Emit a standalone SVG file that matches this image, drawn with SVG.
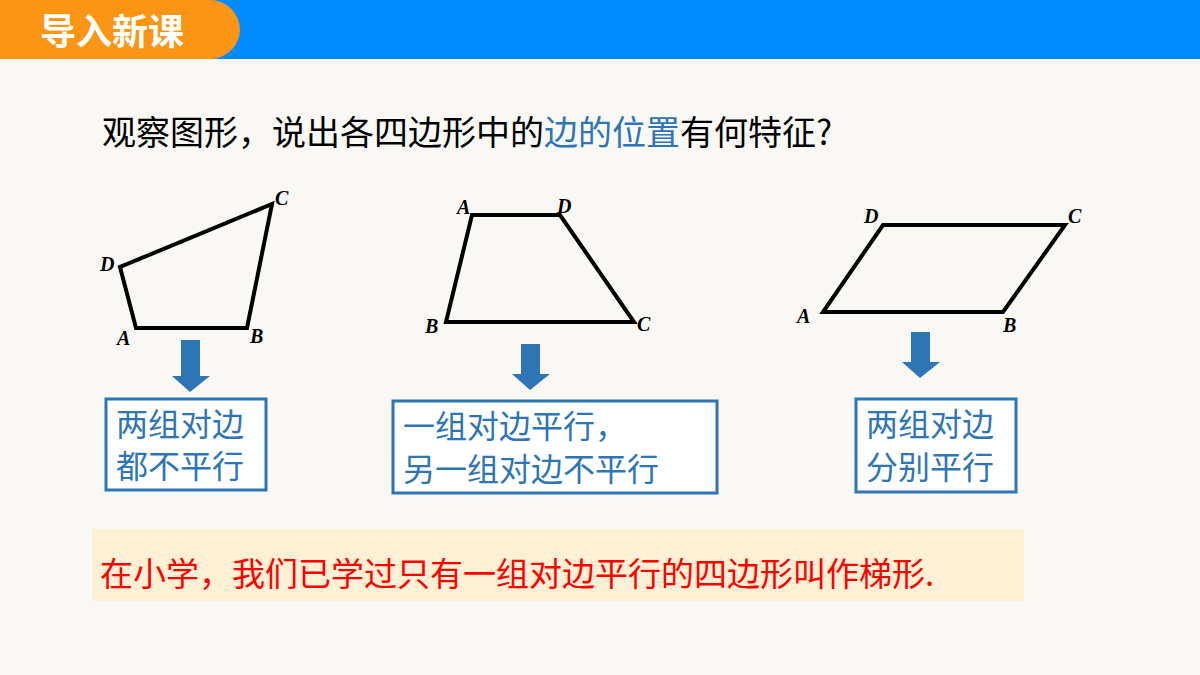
<svg xmlns="http://www.w3.org/2000/svg" width="1200" height="675" viewBox="0 0 1200 675">
<defs><style>
.q{fill:none;stroke:#000;stroke-width:4;stroke-linejoin:miter}
.lb{font-family:"Liberation Serif",serif;font-style:italic;font-weight:bold;font-size:20px}
.bx{fill:#fff;stroke:#2e75b6;stroke-width:3}
.bt{font-family:"Noto Sans CJK SC",sans-serif;font-size:32px;fill:#2e75b6}
.ar{fill:#2e75b6}
</style></defs>
<rect width="1200" height="675" fill="#f9f8f4"/>
<rect width="1200" height="59" fill="#008cff"/>
<path d="M0 0H210A30 30 0 0 1 240 30A30 30 0 0 1 210 59H0Z" fill="#fb9513"/>
<text x="40" y="45" font-family="Noto Sans CJK SC,sans-serif" font-weight="bold" font-size="36" fill="#fff">导入新课</text>
<text x="102" y="145" font-family="Noto Sans CJK SC,sans-serif" font-size="34" fill="#000">观察图形，说出各四边形中的<tspan fill="#2e75b6">边的位置</tspan>有何特征?</text>
<g id="q1"><polygon class="q" points="136,328 247,328 272,204 120,267"/>
<text class="lb" x="117" y="345">A</text><text class="lb" x="250" y="343">B</text><text class="lb" x="275" y="205">C</text><text class="lb" x="100" y="271">D</text></g>
<g id="q2"><polygon class="q" points="472,215 560,215 634,322 446,322"/>
<text class="lb" x="457" y="214">A</text><text class="lb" x="425" y="333">B</text><text class="lb" x="637" y="331">C</text><text class="lb" x="557" y="213">D</text></g>
<g id="q3"><polygon class="q" points="823,312 1003,312 1065,225 883,225"/>
<text class="lb" x="797" y="323">A</text><text class="lb" x="1003" y="332">B</text><text class="lb" x="1068" y="223">C</text><text class="lb" x="864" y="223">D</text></g>
<g id="connectors">
<polygon class="ar" points="181,340 200,340 200,376 210,376 190,392 172,376 181,376"/>
<polygon class="ar" points="521,344 540,344 540,374 550,374 530,390 512,374 521,374"/>
<polygon class="ar" points="911,332 930,332 930,362 940,362 920,378 902,362 911,362"/>
</g>
<g id="b1"><rect class="bx" x="106" y="399" width="160" height="91"/>
<text class="bt" x="116" y="436">两组对边</text><text class="bt" x="116" y="478">都不平行</text></g>
<g id="b2"><rect class="bx" x="393" y="401" width="324" height="92"/>
<text class="bt" x="403" y="438">一组对边平行，</text><text class="bt" x="403" y="481">另一组对边不平行</text></g>
<g id="b3"><rect class="bx" x="856" y="399" width="160" height="93"/>
<text class="bt" x="866" y="436">两组对边</text><text class="bt" x="866" y="479">分别平行</text></g>
<rect x="92" y="529" width="932" height="72" fill="#fdf0d4"/>
<text x="100" y="586" font-family="Noto Sans CJK SC,sans-serif" font-size="33" fill="#ff0000">在小学，我们已学过只有一组对边平行的四边形叫作梯形.</text>
</svg>
